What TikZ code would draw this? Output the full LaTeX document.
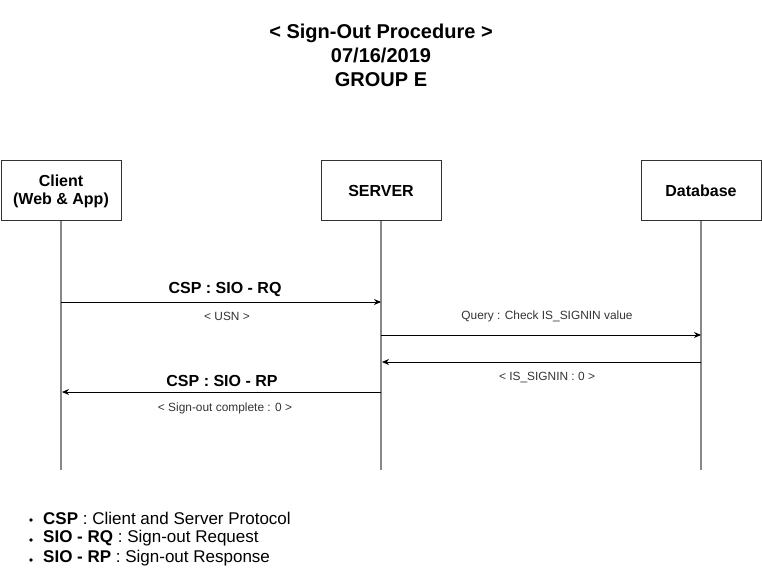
\documentclass[tikz,border=0pt]{standalone}
\usepackage{fontspec}
\setmainfont{Liberation Sans}
\usetikzlibrary{arrows.meta}
\definecolor{boxline}{HTML}{333333}
\definecolor{lifeline}{HTML}{888888}
\begin{document}
\begin{tikzpicture}[x=1pt,y=-1pt,
  actor/.style={draw=boxline,line width=1pt,minimum width=120pt,minimum height=60pt,inner sep=0pt,align=center,font=\fontsize{16}{18}\selectfont\bfseries},
  life/.style={draw=lifeline,line width=1.2pt},
  msg/.style={draw=black,line width=0.9pt,-{Stealth[length=7pt,width=6pt]}},
  big/.style={font=\fontsize{16}{18}\selectfont\bfseries,inner sep=0pt},
  small/.style={font=\fontsize{11.9}{13}\selectfont,text=black!80,inner sep=0pt},
  legendtext/.style={anchor=west,font=\fontsize{17}{20}\selectfont,inner sep=0pt},
  dot/.style={circle,fill=black,inner sep=0pt,minimum size=3.6pt}]
\useasboundingbox (0,0) rectangle (762,585);
\node[align=center,font=\fontsize{20}{24}\selectfont\bfseries] (title) at (381,55)
  {< Sign-Out Procedure >\\07/16/2019\\GROUP E};
\node[actor] (client) at (61,191) {Client\\(Web \& App)};
\node[actor] (server) at (381,191) {SERVER};
\node[actor] (db) at (701,191) {Database};
\coordinate (cEnd) at (61,470);
\coordinate (sEnd) at (381,470);
\coordinate (dEnd) at (701,470);
\draw[life] (client.south) -- (cEnd);
\draw[life] (server.south) -- (sEnd);
\draw[life] (db.south) -- (dEnd);
% messages
\coordinate (c1) at (61,302); \coordinate (s1) at (381,302);
\coordinate (s2) at (381,335); \coordinate (d2) at (701,335);
\coordinate (d3) at (701,362); \coordinate (s3) at (382,362);
\coordinate (s4) at (381,392); \coordinate (c4) at (62,392);
\draw[msg] (c1) -- (s1);
\draw[msg] (s2) -- (d2);
\draw[msg] (d3) -- (s3);
\draw[msg] (s4) -- (c4);
\node[big] (l1) at (225,289) {CSP : SIO - RQ};
\node[small] (l1b) at (227,316) {< USN >};
\node[small] (l2) at (547,316) {Query : Check IS\_SIGNIN value};
\node[small] (l3) at (547,378) {< IS\_SIGNIN : 0 >};
\node[big] (l4) at (222,381) {CSP : SIO - RP};
\node[small] (l4b) at (225,408) {< Sign-out complete : 0 >};
% legend
\node[dot] (b1) at (31,520) {};
\node[dot] (b2) at (31,540) {};
\node[dot] (b3) at (31,560) {};
\node[legendtext] (t1) at (43,518) {\textbf{CSP} : Client and Server Protocol};
\node[legendtext] (t2) at (43,538) {\textbf{SIO - RQ} : Sign-out Request};
\node[legendtext] (t3) at (43,558) {\textbf{SIO - RP} : Sign-out Response};
\end{tikzpicture}
\end{document}
